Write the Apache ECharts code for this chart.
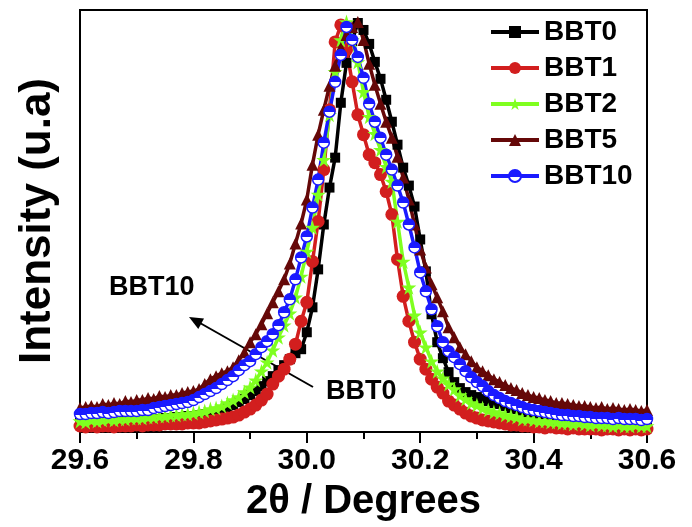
<!DOCTYPE html>
<html>
<head>
<meta charset="utf-8">
<script src="https://cdn.jsdelivr.net/npm/echarts@6/dist/echarts.min.js"></script>
<style>
html,body{margin:0;padding:0;background:#fff;}
#chart{width:692px;height:527px;}
</style>
</head>
<body>
<div id="chart"></div>
<script>
// 2theta positions (degrees)
const twoTheta = [
29.60,29.61,29.62,29.63,29.64,29.65,29.66,29.67,29.68,29.69,
29.70,29.71,29.72,29.73,29.74,29.75,29.76,29.77,29.78,29.79,
29.80,29.81,29.82,29.83,29.84,29.85,29.86,29.87,29.88,29.89,
29.90,29.91,29.92,29.93,29.94,29.95,29.96,29.97,29.98,29.99,
30.00,30.01,30.02,30.03,30.04,30.05,30.06,30.07,30.08,30.09,
30.10,30.11,30.12,30.13,30.14,30.15,30.16,30.17,30.18,30.19,
30.20,30.21,30.22,30.23,30.24,30.25,30.26,30.27,30.28,30.29,
30.30,30.31,30.32,30.33,30.34,30.35,30.36,30.37,30.38,30.39,
30.40,30.41,30.42,30.43,30.44,30.45,30.46,30.47,30.48,30.49,
30.50,30.51,30.52,30.53,30.54,30.55,30.56,30.57,30.58,30.59,30.60];

// Intensities (arbitrary units)
const bbt0 = [
10,9,10,9,10,10,11,10,11,11,
12,12,12,13,13,14,14,15,15,16,
16,17,18,19,20,22,24,27,30,33,
37,41,46,51,56,62,67,73,79,83,
100,125,163,208,245,275,330,370,392,410,
403,389,371,354,333,311,288,265,247,226,
193,161,118,90,74,60,50,44,40,37,
35,33,31,29,28,26,24,23,21,20,
18,17,16,15,14,14,13,13,12,12,
11,11,11,10,10,10,9,10,9,9,9];

const bbt1 = [
6,5,6,5,6,6,5,6,6,6,
7,6,7,7,7,8,8,8,8,9,
9,9,10,11,12,13,14,15,17,20,
23,27,32,38,48,56,63,73,88,111,
130,171,211,263,323,391,408,383,351,318,
298,278,270,258,241,218,173,136,111,90,
73,63,53,45,39,31,27,23,19,16,
14,12,11,10,9,8,7,7,6,6,
5,5,4,5,4,4,3,4,3,3,
3,3,2,3,3,2,3,2,3,2,3];

const bbt2 = [
11,10,12,11,12,13,12,13,13,14,
14,14,15,15,16,16,17,17,18,18,
19,20,21,23,24,26,29,32,35,40,
45,52,61,70,82,95,107,119,135,156,
181,205,238,273,318,361,393,411,393,371,
341,316,299,283,266,251,211,171,145,117,
100,85,71,61,54,48,43,37,33,29,
27,24,22,20,19,17,16,15,13,13,
12,11,11,10,10,9,9,8,9,8,
7,8,7,7,6,7,6,6,7,6,6];

const bbt5 = [
24,25,26,25,28,27,29,28,31,30,
32,32,34,33,36,35,37,37,39,40,
41,43,48,53,56,59,61,65,72,80,
90,98,108,119,130,141,153,169,189,209,
233,268,298,323,347,367,385,398,406,411,
393,369,348,329,311,295,276,255,233,208,
183,165,148,135,121,105,95,85,78,71,
65,61,57,53,50,47,44,42,39,37,
35,34,32,31,29,29,28,27,26,26,
25,24,25,23,24,23,22,23,22,21,22];

const bbt10 = [
18,18,19,19,20,19,20,21,21,21,
21,22,22,24,25,26,27,28,29,30,
32,35,38,41,44,48,52,56,62,67,
71,78,85,91,98,107,120,133,153,175,
196,225,253,290,321,351,378,406,393,376,
355,329,311,295,278,263,247,230,208,185,
160,141,123,106,90,81,75,68,61,55,
50,46,41,37,34,31,29,27,25,23,
22,21,20,19,18,17,17,16,16,15,
15,14,14,14,13,14,13,13,13,12,13];

const seriesNames = ['BBT0','BBT1','BBT2','BBT5','BBT10'];
const xTickLabels = ['29.6','29.8','30.0','30.2','30.4','30.6'];

const FONT = 'Liberation Sans';
const starPath = 'path://M50,0 L61,35 L98,35 L68,57 L79,91 L50,70 L21,91 L32,57 L2,35 L39,35 Z';

function pts(arr){ return twoTheta.map((x,i)=>[x, arr[i]]); }

function mk(name, arr, color, symbol, size, itemColor, border){
  return {
    name: name, type: 'line', data: pts(arr),
    symbol: symbol, symbolSize: size, showSymbol: true, showAllSymbol: true,
    lineStyle: {color: color, width: 3.5},
    itemStyle: Object.assign({color: itemColor || color}, border || {}),
    emphasis: {disabled: true},
    animation: false
  };
}

const halfFill = {
  type:'linear', x:0, y:0, x2:0, y2:1,
  colorStops:[{offset:0,color:'#1a1aff'},{offset:0.55,color:'#1a1aff'},{offset:0.55,color:'#ffffff'},{offset:1,color:'#ffffff'}]
};

const chart = echarts.init(document.getElementById('chart'), null, {renderer:'canvas'});
chart.setOption({
  animation: false,
  backgroundColor: '#fff',
  textStyle: {fontFamily: FONT},
  grid: {left: 80, right: 45, top: 10, bottom: 94, show: true, borderColor: '#000', borderWidth: 2},
  legend: {
    data: seriesNames, orient: 'vertical', left: 489, top: 18, padding: 0,
    itemWidth: 48, itemHeight: 15, itemGap: 8,
    lineStyle: {width: 4},
    textStyle: {fontSize: 28, fontWeight: 'bold', color: '#000', fontFamily: FONT}
  },
  xAxis: {
    type: 'value', min: 29.6, max: 30.6, interval: 0.2,
    axisLine: {show: true, lineStyle: {color: '#000', width: 2}},
    axisTick: {show: true, inside: false, length: 11, lineStyle: {color: '#000', width: 2}},
    minorTick: {show: true, splitNumber: 2, length: 7, lineStyle: {color: '#000', width: 2}},
    splitLine: {show: false},
    axisLabel: {
      fontSize: 30, fontWeight: 'bold', color: '#000', fontFamily: FONT, margin: 14,
      formatter: function(v){ const i = Math.round((v-29.6)/0.2); return xTickLabels[i] !== undefined ? xTickLabels[i] : v.toFixed(1); }
    },
    name: '2θ / Degrees', nameLocation: 'middle', nameGap: 50,
    nameTextStyle: {fontSize: 40, fontWeight: 'bold', color: '#000', fontFamily: FONT}
  },
  yAxis: {
    type: 'value', min: 0, max: 423,
    axisLine: {show: true, lineStyle: {color: '#000', width: 2}},
    axisTick: {show: false}, axisLabel: {show: false}, splitLine: {show: false},
    name: 'Intensity (u.a)', nameLocation: 'middle', nameGap: 20, nameRotate: 90,
    nameTextStyle: {fontSize: 44, fontWeight: 'bold', color: '#000', fontFamily: FONT}
  },
  series: [
    mk('BBT0', bbt0, '#000000', 'rect', 10),
    mk('BBT1', bbt1, '#d21e1e', 'circle', 13),
    mk('BBT2', bbt2, '#7fff1f', starPath, 15),
    mk('BBT5', bbt5, '#650808', 'triangle', 12),
    mk('BBT10', bbt10, '#1a1aff', 'circle', 11, halfFill, {borderColor:'#1a1aff', borderWidth:1.5})
  ],
  graphic: [
    {type:'text', left: 109, top: 274, style:{text:'BBT10', font:'bold 27px "Liberation Sans"', fill:'#000'}},
    {type:'text', left: 326, top: 378, style:{text:'BBT0', font:'bold 27px "Liberation Sans"', fill:'#000'}},
    {type:'line', shape:{x1:313, y1:387, x2:200, y2:323}, style:{stroke:'#000', lineWidth:2}},
    {type:'polygon', shape:{points:[[189,317],[204,318.6],[198.3,329.1]]}, style:{fill:'#000'}}
  ]
});
</script>
</body>
</html>
